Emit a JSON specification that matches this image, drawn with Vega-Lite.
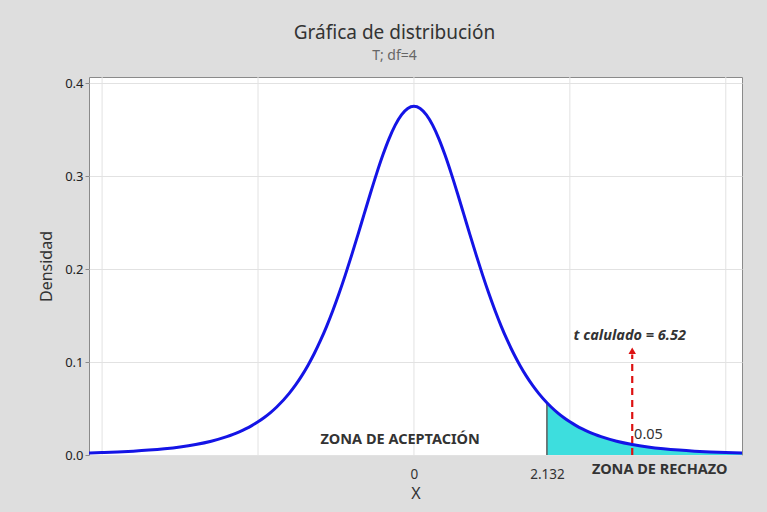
{
  "$schema": "https://vega.github.io/schema/vega-lite/v6.json",
  "width": 653,
  "height": 378,
  "autosize": {"type": "none"},
  "padding": {"left": 89, "top": 77, "right": 25, "bottom": 57},
  "background": "#dedede",
  "title": {
    "text": "Gráfica de distribución",
    "subtitle": "T; df=4",
    "font": "Noto Sans",
    "subtitleFont": "Noto Sans",
    "fontSize": 19,
    "subtitleFontSize": 14,
    "fontWeight": "normal",
    "color": "#333333",
    "subtitleColor": "#666666",
    "anchor": "middle",
    "dx": -21,
    "offset": 14,
    "subtitlePadding": 6
  },
  "config": {
    "view": {"fill": "white", "stroke": "#8a8a8a", "strokeWidth": 1},
    "font": "Noto Sans"
  },
  "datasets": {
    "curve": [
      {"x": -5.21, "y": 0.00222}, {"x": -5.0, "y": 0.00265}, {"x": -4.75, "y": 0.0033}, {"x": -4.5, "y": 0.00414},
      {"x": -4.25, "y": 0.00525}, {"x": -4.0, "y": 0.00671}, {"x": -3.75, "y": 0.00865}, {"x": -3.5, "y": 0.01128},
      {"x": -3.25, "y": 0.01483}, {"x": -3.0, "y": 0.01969}, {"x": -2.9, "y": 0.02212}, {"x": -2.8, "y": 0.02488},
      {"x": -2.7, "y": 0.02802}, {"x": -2.6, "y": 0.0316}, {"x": -2.5, "y": 0.03567}, {"x": -2.4, "y": 0.04032},
      {"x": -2.3, "y": 0.04561}, {"x": -2.2, "y": 0.05164}, {"x": -2.0, "y": 0.06629}, {"x": -1.9, "y": 0.07511},
      {"x": -1.8, "y": 0.08508}, {"x": -1.7, "y": 0.0963}, {"x": -1.6, "y": 0.10887}, {"x": -1.5, "y": 0.12288},
      {"x": -1.4, "y": 0.13838}, {"x": -1.3, "y": 0.15539}, {"x": -1.2, "y": 0.17385}, {"x": -1.1, "y": 0.19368},
      {"x": -1.0, "y": 0.21466}, {"x": -0.9, "y": 0.2365}, {"x": -0.8, "y": 0.25876}, {"x": -0.7, "y": 0.28091},
      {"x": -0.6, "y": 0.30232}, {"x": -0.5, "y": 0.32226}, {"x": -0.4, "y": 0.33998}, {"x": -0.3, "y": 0.35471},
      {"x": -0.2, "y": 0.36579}, {"x": -0.1, "y": 0.37267}, {"x": 0.0, "y": 0.375},
      {"x": 0.1, "y": 0.37267}, {"x": 0.2, "y": 0.36579}, {"x": 0.3, "y": 0.35471}, {"x": 0.4, "y": 0.33998},
      {"x": 0.5, "y": 0.32226}, {"x": 0.6, "y": 0.30232}, {"x": 0.7, "y": 0.28091}, {"x": 0.8, "y": 0.25876},
      {"x": 0.9, "y": 0.2365}, {"x": 1.0, "y": 0.21466}, {"x": 1.1, "y": 0.19368}, {"x": 1.2, "y": 0.17385},
      {"x": 1.3, "y": 0.15539}, {"x": 1.4, "y": 0.13838}, {"x": 1.5, "y": 0.12288}, {"x": 1.6, "y": 0.10887},
      {"x": 1.7, "y": 0.0963}, {"x": 1.8, "y": 0.08508}, {"x": 1.9, "y": 0.07511}, {"x": 2.0, "y": 0.06629},
      {"x": 2.132, "y": 0.0562}, {"x": 2.2, "y": 0.05164}, {"x": 2.3, "y": 0.04561}, {"x": 2.4, "y": 0.04032},
      {"x": 2.5, "y": 0.03567}, {"x": 2.6, "y": 0.0316}, {"x": 2.7, "y": 0.02802}, {"x": 2.8, "y": 0.02488},
      {"x": 2.9, "y": 0.02212}, {"x": 3.0, "y": 0.01969}, {"x": 3.25, "y": 0.01483}, {"x": 3.5, "y": 0.01128},
      {"x": 3.75, "y": 0.00865}, {"x": 4.0, "y": 0.00671}, {"x": 4.25, "y": 0.00525}, {"x": 4.5, "y": 0.00414},
      {"x": 4.75, "y": 0.0033}, {"x": 5.0, "y": 0.00265}, {"x": 5.26, "y": 0.00213}
    ],
    "tail": [
      {"x": 2.132, "y": 0.0562}, {"x": 2.2, "y": 0.05164}, {"x": 2.3, "y": 0.04561}, {"x": 2.4, "y": 0.04032},
      {"x": 2.5, "y": 0.03567}, {"x": 2.6, "y": 0.0316}, {"x": 2.7, "y": 0.02802}, {"x": 2.8, "y": 0.02488},
      {"x": 2.9, "y": 0.02212}, {"x": 3.0, "y": 0.01969}, {"x": 3.25, "y": 0.01483}, {"x": 3.5, "y": 0.01128},
      {"x": 3.75, "y": 0.00865}, {"x": 4.0, "y": 0.00671}, {"x": 4.25, "y": 0.00525}, {"x": 4.5, "y": 0.00414},
      {"x": 4.75, "y": 0.0033}, {"x": 5.0, "y": 0.00265}, {"x": 5.26, "y": 0.00213}
    ],
    "grid": [
      {"x": -5.0, "y": 0, "y2": 0.4065}, {"x": -2.5, "y": 0, "y2": 0.4065}, {"x": 0, "y": 0, "y2": 0.4065},
      {"x": 2.5, "y": 0, "y2": 0.4065}, {"x": 5.0, "y": 0, "y2": 0.4065}
    ],
    "edge": [{"x": 2.132, "y": 0, "y2": 0.0562}],
    "arrow": [{"x": 3.5, "y": 0, "y2": 0.108}],
    "head": [{"x": 3.5, "y": 0.1122}],
    "tcalc": [{"x": 3.46, "y": 0.1285, "label": "t calulado = 6.52"}],
    "alpha": [{"x": 3.53, "y": 0.022, "label": "0.05"}],
    "zones": [
      {"x": -0.22, "y": 0.0156, "label": "ZONA DE ACEPTACIÓN"},
      {"x": 3.94, "y": -0.0158, "label": "ZONA DE RECHAZO"}
    ]
  },
  "encoding": {
    "x": {
      "field": "x",
      "type": "quantitative",
      "scale": {"domain": [-5.21, 5.26], "nice": false, "zero": false},
      "axis": {
        "values": [0, 2.132],
        "format": ".4~g",
        "grid": false,
        "ticks": false,
        "domain": false,
        "labelPadding": 12,
        "labelFontSize": 13.5,
        "labelColor": "#333333",
        "labelFont": "Noto Sans",
        "title": "X",
        "titleFontSize": 16,
        "titleFontWeight": "normal",
        "titleColor": "#333333",
        "titlePadding": 5
      }
    },
    "y": {
      "field": "y",
      "type": "quantitative",
      "scale": {"domain": [0, 0.4065], "nice": false},
      "axis": {
        "values": [0, 0.1, 0.2, 0.3, 0.4],
        "format": ".1f",
        "grid": true,
        "gridColor": "#e2e2e2",
        "domain": false,
        "tickSize": 4,
        "tickColor": "#8a8a8a",
        "labelPadding": 2,
        "labelFontSize": 13,
        "labelColor": "#222222",
        "title": "Densidad",
        "titleFontSize": 16,
        "titleFontWeight": "normal",
        "titleColor": "#333333",
        "titlePadding": 10
      }
    }
  },
  "layer": [
    {
      "data": {"name": "grid"},
      "mark": {"type": "rule", "color": "#e2e2e2", "strokeWidth": 1},
      "encoding": {"y2": {"field": "y2"}}
    },
    {
      "data": {"name": "tail"},
      "mark": {"type": "area", "color": "#3ddede", "interpolate": "monotone", "opacity": 1}
    },
    {
      "data": {"name": "edge"},
      "mark": {"type": "rule", "color": "#5a5a5a", "strokeWidth": 1.5},
      "encoding": {"y2": {"field": "y2"}}
    },
    {
      "data": {"name": "curve"},
      "mark": {"type": "line", "color": "#1414e6", "strokeWidth": 3, "interpolate": "monotone"}
    },
    {
      "data": {"name": "arrow"},
      "mark": {"type": "rule", "color": "#dd1111", "strokeWidth": 2.2, "strokeDash": [7, 5]},
      "encoding": {"y2": {"field": "y2"}}
    },
    {
      "data": {"name": "head"},
      "mark": {"type": "point", "shape": "triangle-up", "filled": true, "color": "#dd1111", "size": 55, "opacity": 1}
    },
    {
      "data": {"name": "tcalc"},
      "mark": {"type": "text", "fontSize": 14.5, "fontWeight": "bold", "fontStyle": "italic", "color": "#333333", "align": "center", "baseline": "middle"},
      "encoding": {"text": {"field": "label"}}
    },
    {
      "data": {"name": "alpha"},
      "mark": {"type": "text", "fontSize": 14.5, "color": "#333333", "align": "left", "baseline": "middle"},
      "encoding": {"text": {"field": "label"}}
    },
    {
      "data": {"name": "zones"},
      "mark": {"type": "text", "fontSize": 14.5, "fontWeight": "bold", "color": "#333333", "align": "center", "baseline": "middle"},
      "encoding": {"text": {"field": "label"}}
    }
  ]
}
